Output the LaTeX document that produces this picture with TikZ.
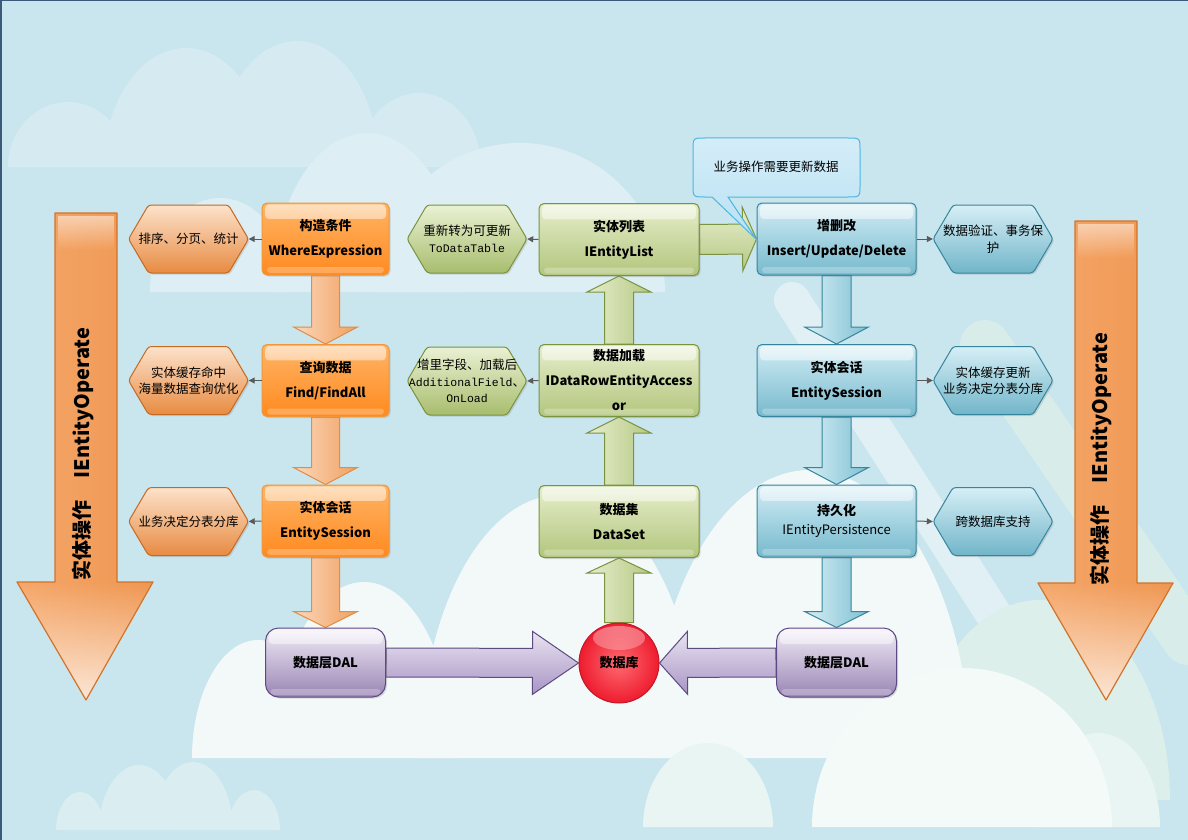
\documentclass[tikz,border=0pt]{standalone}
\usepackage{fontspec}
\setmainfont{Noto Sans CJK SC}
\newfontfamily\monofont{Liberation Mono}
\usetikzlibrary{calc,shadows,arrows.meta,fadings}
\pgfdeclarelayer{bg}
\pgfdeclarelayer{arr}
\pgfsetlayers{bg,arr,main}
\definecolor{bgc}{HTML}{C9E5EE}
\definecolor{cA}{HTML}{D5EAF1}
\definecolor{cB}{HTML}{DDEFF4}
\definecolor{cC}{HTML}{F2F9F8}
\definecolor{cD}{HTML}{E9F5F2}
\definecolor{cDw}{HTML}{F4FAF8}
\definecolor{cE}{HTML}{DCEFEA}
\definecolor{cF}{HTML}{DAEDF0}
\definecolor{frame}{HTML}{3B5A78}
% orange
\definecolor{oB}{HTML}{F39638}\definecolor{oT}{HTML}{FFB466}\definecolor{oBt}{HTML}{FF8A1F}
\definecolor{oHB}{HTML}{C66A22}\definecolor{oHT}{HTML}{FCE2CB}\definecolor{oHBt}{HTML}{E88B42}
\definecolor{oAB}{HTML}{E08D45}\definecolor{oAL}{HTML}{FCD8BC}\definecolor{oAR}{HTML}{F0A060}
\definecolor{bigB}{HTML}{D2732A}\definecolor{bigL}{HTML}{F5A76A}\definecolor{bigM}{HTML}{FCCFA6}\definecolor{bigR}{HTML}{EF9650}
% green
\definecolor{gB}{HTML}{7A9340}\definecolor{gT}{HTML}{E6EECB}\definecolor{gBt}{HTML}{B2C67D}
\definecolor{gHT}{HTML}{EAF1D3}\definecolor{gHBt}{HTML}{A8BD6E}
\definecolor{gAL}{HTML}{E7EECE}\definecolor{gAR}{HTML}{B5C882}
% blue
\definecolor{bB}{HTML}{37859D}\definecolor{bT}{HTML}{D2EDF5}\definecolor{bBt}{HTML}{76B9CD}
\definecolor{bHT}{HTML}{D6EFF6}\definecolor{bHBt}{HTML}{71B5C9}
\definecolor{bAL}{HTML}{D6EFF6}\definecolor{bAR}{HTML}{7FC0D2}
% purple
\definecolor{pB}{HTML}{5D4A82}\definecolor{pT}{HTML}{F1ECF6}\definecolor{pBt}{HTML}{9984B5}
\definecolor{pAT}{HTML}{EAE4F2}\definecolor{pABt}{HTML}{A794C4}
% misc
\definecolor{connc}{HTML}{5A5A5A}
\definecolor{dbB}{HTML}{C4162A}\definecolor{dbI}{HTML}{FF6A72}\definecolor{dbO}{HTML}{EE1C2E}
\definecolor{clB}{HTML}{4DB6E2}\definecolor{clT}{HTML}{D4EDF8}\definecolor{clBt}{HTML}{B9E1F3}

\newcommand\arch[5]{\fill[#5] ({#1-#3},#4) .. controls ({#1-#3},{#4-0.5523*(#4-#2)}) and ({#1-0.5523*#3},#2) .. (#1,#2) .. controls ({#1+0.5523*#3},#2) and ({#1+#3},{#4-0.5523*(#4-#2)}) .. ({#1+#3},#4) -- cycle;}
\newcommand\blockarrow[6]{\path[#1] let \p1=(#2), \p2=(#3), \p3=($(#3)!#6!(#2)$) in ($(\p1)!#4!90:(\p2)$) -- ($(\p3)!#4!90:(\p2)$) -- ($(\p3)!#5!90:(\p2)$) -- (\p2) -- ($(\p3)!#5!-90:(\p2)$) -- ($(\p3)!#4!-90:(\p2)$) -- ($(\p1)!#4!-90:(\p2)$) -- cycle;}
\newcommand\hexa[5]{\path[#4] ({#2-60},#3) -- ++(20,-34) -- ++(80,0) -- ++(20,34) -- ++(-20,34) -- ++(-80,0) -- cycle; \node[hextext] (#1) at (#2,#3) {#5};}

\tikzset{
 gloss/.style={path picture={
   \fill[white,path fading=south,opacity=0.6,rounded corners=4pt] ([xshift=3pt,yshift=-1.5pt]path picture bounding box.north west) rectangle ([xshift=-3pt,yshift=-16pt]path picture bounding box.north east);
   \fill[white,opacity=0.25,rounded corners=3pt] ([xshift=5pt,yshift=2pt]path picture bounding box.south west) rectangle ([xshift=-5pt,yshift=8pt]path picture bounding box.south east);}},
 shad/.style={drop shadow={opacity=0.25,shadow xshift=1.5pt,shadow yshift=-1.5pt}},
 box/.style={rectangle, rounded corners=5pt, minimum height=72pt, inner sep=2pt, align=center, text=black, font=\fontsize{13}{25}\selectfont\bfseries, line width=1pt, shad, gloss},
 obox/.style={box, minimum width=127pt, draw=oB, top color=oT, bottom color=oBt},
 gbox/.style={box, minimum width=160pt, draw=gB, top color=gT, bottom color=gBt},
 bbox/.style={box, minimum width=159pt, draw=bB, top color=bT, bottom color=bBt},
 pbox/.style={box, rounded corners=13pt, minimum width=120pt, minimum height=69pt, draw=pB, top color=pT, bottom color=pBt},
 hexbase/.style={rounded corners=3pt, line width=1pt, shad},
 ohex/.style={hexbase, draw=oHB, top color=oHT, bottom color=oHBt},
 ghex/.style={hexbase, draw=gB, top color=gHT, bottom color=gHBt},
 bhex/.style={hexbase, draw=bB, top color=bHT, bottom color=bHBt},
 hextext/.style={minimum width=120pt, minimum height=68pt, inner sep=0pt, align=center, text=black, font=\fontsize{12.5}{16.5}\selectfont},
 conn/.style={draw=connc, line width=1pt, -{Triangle[length=6pt,width=6pt]}},
 oarr/.style={line width=1pt, draw=oAB, left color=oAL, right color=oAR},
 garr/.style={line width=1pt, draw=gB, left color=gAL, right color=gAR},
 ghor/.style={line width=1pt, draw=gB, top color=gAL, bottom color=gAR},
 barr/.style={line width=1pt, draw=bB, left color=bAL, right color=bAR},
 parr/.style={line width=1pt, draw=pB, top color=pAT, bottom color=pABt},
 bigfill/.style={left color=bigL, middle color=bigM, right color=bigR},
 bigtext/.style={font=\fontsize{20}{24}\selectfont\bfseries, text=black, rotate=90, inner sep=0pt},
 dbnode/.style={circle, minimum size=80pt, inner sep=0pt, draw=dbB, line width=1pt, inner color=dbI, outer color=dbO, font=\fontsize{13}{16}\selectfont\bfseries, text=black,
   path picture={\fill[white,opacity=0.4,path fading=south] ([yshift=-15pt]path picture bounding box.north) ellipse (26pt and 12pt);}},
 callout/.style={draw=clB, line width=1pt, top color=clT, bottom color=clBt}
}

\begin{document}
\begin{tikzpicture}[x=1pt,y=-1pt]
\useasboundingbox (0,0) rectangle (1188,840);
\begin{pgfonlayer}{bg}
\fill[bgc] (0,0) rectangle (1188,840);
% top-left far cloud
\arch{68}{102}{60}{167}{cA}
\arch{186}{48}{82}{167}{cA}
\arch{297}{41}{82}{167}{cA}
\arch{419}{93}{62}{167}{cA}
% second cloud
\arch{220}{198}{70}{292}{cB}
\arch{367}{133}{95}{292}{cB}
\arch{520}{143}{145}{292}{cB}
% diagonal stripes
\draw[white,opacity=0.45,line width=36pt,line cap=round] (792,300) -- (1010,640);
\draw[cE,opacity=0.8,line width=50pt,line cap=round] (985,345) -- (1188,640);
% greenish cloud behind right arrow
\arch{1040}{600}{130}{800}{cE}
% big white cloud
\arch{258}{640}{66}{758}{cC}
\arch{364}{582}{90}{758}{cC}
\arch{560}{495}{140}{758}{cC}
\arch{810}{470}{160}{758}{cC}
% lower right cloud
\arch{708}{743}{65}{827}{cD}
\arch{1098}{733}{62}{827}{cD}
\arch{962}{668}{150}{827}{cDw}
% bottom-left small cloud
\arch{80}{792}{24}{830}{cF}
\arch{139}{765}{40}{830}{cF}
\arch{193}{762}{40}{830}{cF}
\arch{254}{790}{26}{830}{cF}
\draw[frame,line width=3pt] (0,840) -- (0,0) -- (1188,0);
\end{pgfonlayer}

% big side arrows
\path[bigfill] (55,213) -- (117,213) -- (117,582) -- (153,582) -- (86,700) -- (17,582) -- (55,582) -- cycle;
\fill[white,opacity=0.75,path fading=north] (17,582) -- (153,582) -- (86,700) -- cycle;
\fill[white,opacity=0.5,path fading=south] (58,216) rectangle (114,250);
\draw[bigB,line width=1.2pt,line join=round] (55,213) -- (117,213) -- (117,582) -- (153,582) -- (86,700) -- (17,582) -- (55,582) -- cycle;
\path[bigfill] (1075,221) -- (1137,221) -- (1137,583) -- (1173,583) -- (1106,700) -- (1038,583) -- (1075,583) -- cycle;
\fill[white,opacity=0.75,path fading=north] (1038,583) -- (1173,583) -- (1106,700) -- cycle;
\fill[white,opacity=0.5,path fading=south] (1078,224) rectangle (1134,258);
\draw[bigB,line width=1.2pt,line join=round] (1075,221) -- (1137,221) -- (1137,583) -- (1173,583) -- (1106,700) -- (1038,583) -- (1075,583) -- cycle;
\node[bigtext] (leftlabel) at (83,454) {实体操作\hspace{22pt}IEntityOperate};
\node[bigtext] (rightlabel) at (1101,459) {实体操作\hspace{22pt}IEntityOperate};

% boxes
\node[obox] (ob1) at (325.5,239) {构造条件\\WhereExpression};
\node[obox] (ob2) at (325.5,380.5) {查询数据\\Find/FindAll};
\node[obox] (ob3) at (325.5,521) {实体会话\\EntitySession};
\node[pbox] (dal1) at (325.5,662.5) {数据层DAL};
\node[gbox] (gb1) at (619,239.5) {实体列表\\IEntityList};
\node[gbox] (gb2) at (619,380.5) {数据加载\\IDataRowEntityAccess\\or};
\node[gbox] (gb3) at (619,521.5) {数据集\\DataSet};
\node[dbnode] (db) at (619,663) {数据库};
\node[bbox] (bb1) at (836.5,239) {增删改\\Insert/Update/Delete};
\node[bbox] (bb2) at (836.5,380.5) {实体会话\\EntitySession};
\node[bbox] (bb3) at (836.5,521) {持久化\\[-6pt]{\mdseries IEntityPersistence}};
\node[pbox] (dal2) at (836.5,662.5) {数据层DAL};

% hexagons
\hexa{oh1}{188.5}{239}{ohex}{排序、分页、统计}
\hexa{oh2}{188.5}{380.5}{ohex}{实体缓存命中\\海量数据查询优化}
\hexa{oh3}{188.5}{521.5}{ohex}{业务决定分表分库}
\hexa{gh1}{467}{239}{ghex}{重新转为可更新\\{\fontsize{11.5}{16.5}\monofont ToDataTable}}
\hexa{gh2}{467}{381}{ghex}{增里字段、加载后\\{\fontsize{11.5}{16.5}\monofont AdditionalField}、\\{\fontsize{11.5}{16.5}\monofont OnLoad}}
\hexa{bh1}{993}{239}{bhex}{数据验证、事务保\\护}
\hexa{bh2}{993}{380.5}{bhex}{实体缓存更新\\业务决定分表分库}
\hexa{bh3}{993}{521.5}{bhex}{跨数据库支持}

% small connectors
\draw[conn] (ob1.west) -- (oh1.east);
\draw[conn] (ob2.west) -- (oh2.east);
\draw[conn] (ob3.west) -- (oh3.east);
\draw[conn] (gb1.west) -- (gh1.east);
\draw[conn] (gb2.west) -- (gh2.east);
\draw[conn] (bb1.east) -- (bh1.west);
\draw[conn] (bb2.east) -- (bh2.west);
\draw[conn] (bb3.east) -- (bh3.west);

% block arrows
\begin{pgfonlayer}{arr}
\blockarrow{oarr}{ob1.south}{ob2.north}{14pt}{32pt}{17pt}
\blockarrow{oarr}{ob2.south}{ob3.north}{14pt}{32pt}{17pt}
\blockarrow{oarr}{ob3.south}{dal1.north}{14pt}{32pt}{16pt}
\blockarrow{garr}{gb2.north}{gb1.south}{14.5pt}{32pt}{16pt}
\blockarrow{garr}{gb3.north}{gb2.south}{14.5pt}{32pt}{16pt}
\blockarrow{garr}{db.north}{gb3.south}{14.5pt}{32pt}{15pt}
\blockarrow{ghor}{gb1.east}{bb1.west}{15pt}{32pt}{14pt}
\blockarrow{barr}{bb1.south}{bb2.north}{14.5pt}{32pt}{17pt}
\blockarrow{barr}{bb2.south}{bb3.north}{14.5pt}{32pt}{17pt}
\blockarrow{barr}{bb3.south}{dal2.north}{14.5pt}{32pt}{16pt}
\blockarrow{parr}{dal1.east}{db.west}{14.5pt}{31.5pt}{46pt}
\blockarrow{parr}{dal2.west}{db.east}{14.5pt}{31.5pt}{28pt}
\end{pgfonlayer}

% callout
\path[callout] (705,138) -- (848,138) .. controls (860,138) .. (860,150) -- (860,185) .. controls (860,197) .. (848,197) -- (728,197) -- (756,239) -- (712,197) -- (705,197) .. controls (693,197) .. (693,185) -- (693,150) .. controls (693,138) .. (705,138) -- cycle;
\node[font=\fontsize{12.5}{14}\selectfont, text=black] (callout) at (776,167) {业务操作需要更新数据};
\end{tikzpicture}
\end{document}
